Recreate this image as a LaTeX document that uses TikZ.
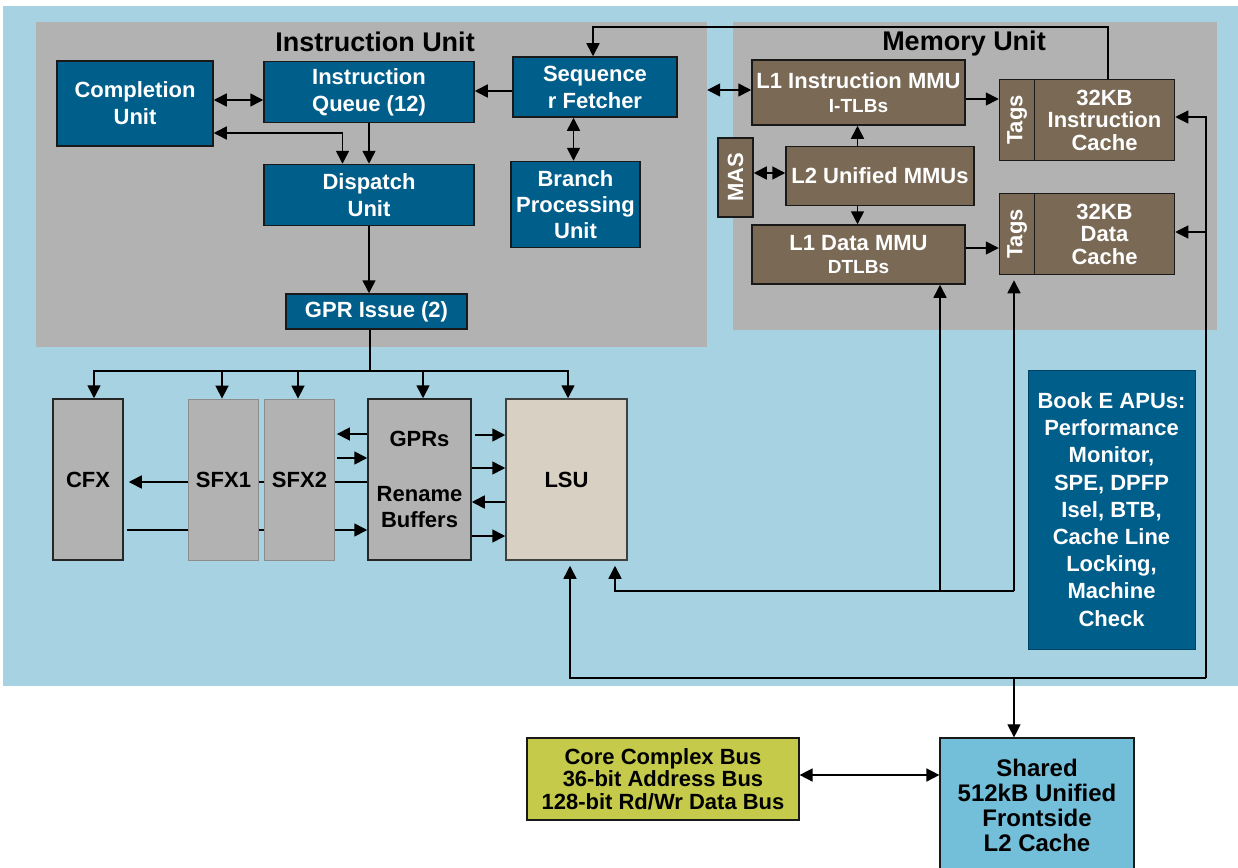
\documentclass[tikz,border=0pt]{standalone}
\usepackage{fontspec}
\setmainfont{Liberation Sans}
\usetikzlibrary{arrows.meta}
\definecolor{bgblue}{HTML}{A6D2E2}
\definecolor{panel}{HTML}{B2B2B2}
\definecolor{dblue}{HTML}{005E8A}
\definecolor{mbrown}{HTML}{7A6A55}
\definecolor{lsufill}{HTML}{D9D0C4}
\definecolor{busyel}{HTML}{C5CA4B}
\definecolor{ltwo}{HTML}{73BED8}
\newcommand\fsz[2]{\fontsize{#1}{#2}\selectfont\bfseries}
\begin{document}
\begin{tikzpicture}[x=1pt,y=-1pt,
  blk/.style={draw=black!90, line width=1.5pt, fill=dblue, text=white, font=\fsz{22}{27}, align=center, inner sep=0pt},
  brn/.style={blk, fill=mbrown, font=\fsz{22}{22.5}},
  gbox/.style={draw=black!85, line width=1.5pt, fill=panel, text=black, font=\fsz{22}{26}, align=center, inner sep=0pt},
  sbox/.style={gbox, draw=black!45, line width=0.8pt},
  pan/.style={fill=panel, draw=none, inner sep=0pt},
  conn/.style={line width=1.6pt, -{Triangle[length=13pt,width=13pt]}},
  dconn/.style={line width=1.6pt, {Triangle[length=13pt,width=13pt]}-{Triangle[length=13pt,width=13pt]}},
  ln/.style={line width=1.6pt},
  thinln/.style={line width=1.1pt}]
\useasboundingbox (0,0) rectangle (1238,867);
\fill[white] (0,0) rectangle (1238,867);
\fill[bgblue] (3,6) rectangle (1238,686);
% panels
\node[pan, minimum width=671pt, minimum height=325pt] (iu) at (371.5,184.5) {};
\node[pan, minimum width=484pt, minimum height=308pt] (mu) at (975,176) {};
\node[font=\fsz{27}{30}] (iut) at (375,42) {Instruction Unit};
\node[font=\fsz{27}{30}] (mut) at (964,44) {Memory Unit};
% instruction unit
\node[blk, minimum width=156pt, minimum height=85pt] (comp) at (135,103.5) {Completion\\Unit};
\node[blk, minimum width=210pt, minimum height=61pt] (iq) at (369,92) {Instruction\\Queue (12)};
\node[blk, minimum width=164pt, minimum height=60pt] (seq) at (595,87) {Sequence\\r Fetcher};
\node[blk, minimum width=210pt, minimum height=61pt] (disp) at (369,195) {Dispatch\\Unit};
\node[blk, minimum width=129pt, minimum height=86pt, font=\fsz{22}{26}] (bpu) at (575.5,204.5) {Branch\\Processing\\Unit};
\node[blk, minimum width=181pt, minimum height=35pt] (gpri) at (376.5,311.5) {GPR Issue (2)};
% memory unit
\node[brn, minimum width=213pt, minimum height=65pt] (l1i) at (858.5,92.5) {L1 Instruction MMU\\[1pt]{\fsz{19}{22}I-TLBs}};
\node[brn, minimum width=35pt, minimum height=79pt] (mas) at (735.5,177.5) {};
\node[rotate=90, text=white, font=\fsz{22}{22}] (mast) at (mas) {MAS};
\node[brn, minimum width=188pt, minimum height=59pt] (l2u) at (880,176) {L2 Unified MMUs};
\node[brn, minimum width=213pt, minimum height=59pt] (l1d) at (858.5,254.5) {L1 Data MMU\\[1pt]{\fsz{19}{22}DTLBs}};
\node[brn, minimum width=35pt, minimum height=81pt] (tagi) at (1017,120) {};
\node[rotate=90, text=white, font=\fsz{22}{22}] (tagit) at (tagi) {Tags};
\node[brn, minimum width=140pt, minimum height=81pt] (ic) at (1104.5,120) {32KB\\Instruction\\Cache};
\node[brn, minimum width=35pt, minimum height=81pt] (tagd) at (1017,234) {};
\node[rotate=90, text=white, font=\fsz{22}{22}] (tagdt) at (tagd) {Tags};
\node[brn, minimum width=140pt, minimum height=81pt] (dc) at (1104.5,234) {32KB\\Data\\Cache};
% instruction unit connectors
\draw[dconn] (comp.east |- 0,100) -- (iq.west |- 0,100);
\draw[dconn] (comp.east |- 0,133) -| (disp.north -| 342.5,0);
\draw[conn] (iq.south) -- (disp.north);
\draw[conn] (seq.west |- 0,91) -- (iq.east |- 0,91);
\draw[dconn] (seq.south -| 573.5,0) -- (bpu.north -| 573.5,0);
\draw[conn] (ic.north -| 1108,0) -- (1108,27) -| (seq.north -| 593,0);
\draw[dconn] (iu.east |- 0,90) -- (l1i.west |- 0,90);
\draw[conn] (disp.south) -- (gpri.north -| disp.south);
% memory unit connectors
\draw[dconn] (mas.east |- 0,173) -- (l2u.west |- 0,173);
\draw[conn] (l2u.north -| 857.5,0) -- (l1i.south -| 857.5,0);
\draw[conn] (l2u.south -| 857.5,0) -- (l1d.north -| 857.5,0);
\draw[conn] (l1i.east |- 0,99) -- (tagi.west |- 0,99);
\draw[conn] (l1d.east |- 0,248) -- (tagd.west |- 0,248);
% execution units
\coordinate (bus) at (370,371);
\coordinate (rb) at (1206,678);
\coordinate (lb) at (1014,591);
\node[gbox, minimum width=70pt, minimum height=161pt] (cfx) at (88,479.5) {CFX};
\node[gbox, minimum width=103pt, minimum height=161pt] (gpr) at (419.5,479.5) {GPRs\\[29pt]Rename\\Buffers};
\node[gbox, fill=lsufill, draw=black!75, minimum width=121pt, minimum height=161pt] (lsu) at (566.5,479.5) {LSU};
\draw[conn, shorten >=5pt] (gpr.west |- 0,482) -- (cfx.east |- 0,482);
\draw[conn, shorten <=3pt] (cfx.east |- 0,530) -- (gpr.west |- 0,530);
\node[sbox, minimum width=70pt, minimum height=161pt] (sfx1) at (223.5,479.5) {SFX1};
\node[sbox, minimum width=70pt, minimum height=161pt] (sfx2) at (299.5,479.5) {SFX2};
\draw[ln] (gpri.south -| bus) -- (bus);
\draw[conn] (bus) -| (cfx.north -| 94,0);
\draw[conn] (bus) -| (sfx1.north -| 222,0);
\draw[conn] (bus) -| (sfx2.north -| 298,0);
\draw[conn] (bus) -| (gpr.north -| 423,0);
\draw[conn] (bus) -| (lsu.north -| 568,0);
\draw[conn, shorten >=2pt] (gpr.west |- 0,434) -- (sfx2.east |- 0,434);
\draw[conn, shorten <=2pt] (sfx2.east |- 0,458) -- (gpr.west |- 0,458);
\draw[conn, shorten <=3pt] (gpr.east |- 0,435) -- (lsu.west |- 0,435);
\draw[conn] (gpr.east |- 0,468) -- (lsu.west |- 0,468);
\draw[conn] (lsu.west |- 0,502) -- (gpr.east |- 0,502);
\draw[conn] (gpr.east |- 0,536) -- (lsu.west |- 0,536);
% Book E
\node[blk, draw=dblue!70!black, line width=0.8pt, minimum width=167pt, minimum height=279pt, font=\fsz{22}{27.2}] (booke) at (1111.5,509.5) {Book E APUs:\\Performance\\Monitor,\\SPE, DPFP\\Isel, BTB,\\Cache Line\\Locking,\\Machine\\Check};
% buses
\draw[conn, thinln] (rb) -- (rb |- 0,117) -- (ic.east |- 0,117);
\draw[conn, thinln] (rb |- 0,232) -- (dc.east |- 0,232);
\draw[conn, shorten >=5pt] (rb) -- (570,678) -- (lsu.south -| 570,0);
\draw[conn, shorten >=5pt] (lb) -- (tagd.south -| lb);
\draw[conn] (lb -| 940,0) -- (l1d.south -| 940,0);
\draw[conn, shorten >=5pt] (lb) -- (615,591) -- (lsu.south -| 615,0);
% bottom
\node[blk, fill=busyel, text=black, line width=1.2pt, minimum width=272pt, minimum height=82pt, font=\fsz{22}{22.5}] (cbus) at (663,779) {Core Complex Bus\\36-bit Address Bus\\128-bit Rd/Wr Data Bus};
\node[blk, fill=ltwo, text=black, line width=1.2pt, minimum width=194pt, minimum height=134pt, font=\fsz{24}{25}] (l2) at (1037,805) {Shared\\512kB Unified\\Frontside\\L2 Cache};
\draw[conn, thinln] (rb -| 1014,0) -- (l2.north -| 1014,0);
\draw[dconn] (cbus.east |- 0,775) -- (l2.west |- 0,775);
\end{tikzpicture}
\end{document}
